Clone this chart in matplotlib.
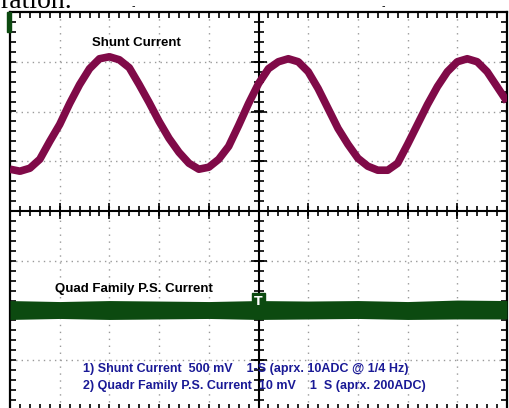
import matplotlib
matplotlib.use("Agg")
import matplotlib.pyplot as plt
import numpy as np

# channel 1: shunt current, in screen divisions, sampled every 0.2 s (1 s/div)
shunt_div = [0.84, 0.80, 0.86, 1.04, 1.40, 1.74, 2.16, 2.54, 2.86, 3.06,
             3.10, 3.04, 2.88, 2.54, 2.18, 1.80, 1.46, 1.18, 0.96, 0.84,
             0.88, 1.04, 1.30, 1.72, 2.16, 2.56, 2.86, 3.00, 3.06, 3.00,
             2.80, 2.46, 2.06, 1.66, 1.34, 1.06, 0.90, 0.82, 0.82, 0.96,
             1.34, 1.74, 2.14, 2.50, 2.80, 3.00, 3.06, 3.00, 2.80, 2.50,
             2.20]
time_s = np.linspace(0, 10, len(shunt_div))

# channel 2: quad family P.S. current, band envelope (divisions)
quad_t = [0, 1, 2, 3, 4, 5, 6, 7, 8, 9, 10]
quad_upper = [-1.80, -1.82, -1.80, -1.81, -1.82, -1.80, -1.81, -1.80, -1.82, -1.79, -1.80]
quad_lower = [-2.18, -2.16, -2.18, -2.17, -2.16, -2.18, -2.17, -2.16, -2.18, -2.17, -2.17]

label_ch1 = "Shunt Current"
label_ch2 = "Quad Family P.S. Current"
info_1 = "1) Shunt Current  500 mV    1-S (aprx. 10ADC @ 1/4 Hz)"
info_2 = "2) Quadr Family P.S. Current  10 mV    1  S (aprx. 200ADC)"

maroon = "#800a48"
green = "#0c4a10"
navy = "#1a1a96"

fig = plt.figure(figsize=(5.09, 4.08), dpi=100)
ax = fig.add_axes([10 / 509, 1 - 410 / 408, 497 / 509, 398 / 408])
ax.set_xlim(0, 10)
ax.set_ylim(-4, 4)

# dotted graticule
for gx in range(1, 10):
    if gx != 5:
        ax.axvline(gx, color="#9a9a9a", lw=1.0, ls=(0, (1, 4)), zorder=1)
for gy in range(-3, 4):
    if gy != 0:
        ax.axhline(gy, color="#9a9a9a", lw=1.0, ls=(0, (1, 3)), zorder=1)

# centre axes with cross ticks
ax.axhline(0, color="black", lw=1.5, zorder=2)
ax.axvline(5, color="black", lw=1.5, zorder=2)
xt = np.arange(0, 10.01, 0.2)
yt = np.arange(-4, 4.01, 0.2)
ax.plot(xt, np.zeros_like(xt), ls="none", marker="|", ms=7, mew=1.2, color="black", zorder=2)
ax.plot(np.full_like(yt, 5), yt, ls="none", marker="_", ms=7, mew=1.2, color="black", zorder=2)
ax.plot(np.arange(0, 11), np.zeros(11), ls="none", marker="|", ms=11, mew=1.2, color="black", zorder=2)
ax.plot(np.full(9, 5), np.arange(-4, 5), ls="none", marker="_", ms=11, mew=1.2, color="black", zorder=2)

for s in ax.spines.values():
    s.set_linewidth(1.6)
ax.set_xticks(np.arange(0, 10.01, 0.2))
ax.set_yticks(np.arange(-4, 4.01, 0.2))
ax.tick_params(direction="in", length=4, width=1.2, top=True, right=True,
               labelbottom=False, labelleft=False)

# traces
ax.plot(time_s, shunt_div, color=maroon, lw=5.5, solid_capstyle="butt", zorder=3)
ax.fill_between(quad_t, quad_lower, quad_upper, color=green, lw=0, zorder=3)

# trigger marker
ax.text(5.0, -1.82, "T", color="white", fontsize=9, fontweight="bold", ha="center", va="center",
        bbox=dict(boxstyle="square,pad=0.15", fc=green, ec=green), zorder=5)

ax.text(2.55, 3.38, label_ch1, fontsize=9.5, fontweight="bold", ha="center", va="center",
        family="Liberation Sans", zorder=4)
ax.text(2.5, -1.57, label_ch2, fontsize=9.5, fontweight="bold", ha="center", va="center",
        family="Liberation Sans", zorder=4)
ax.text(1.47, -3.18, info_1, fontsize=9, fontweight="bold", color=navy, ha="left", va="center",
        family="Liberation Sans", zorder=4)
ax.text(1.47, -3.52, info_2, fontsize=9, fontweight="bold", color=navy, ha="left", va="center",
        family="Liberation Sans", zorder=4)

# channel marker on the left edge
fig.patches.append(plt.Rectangle((7 / 509, 1 - 32 / 408), 4 / 509, 20 / 408,
                                 transform=fig.transFigure, color=green, zorder=5))

# clipped text of the surrounding document
fig.text(0.0, 1 - 8 / 408, "ration.", fontsize=20, family="Liberation Serif", va="baseline")
fig.text(133 / 509, 1 - 6 / 408, "-", fontsize=7, ha="center", va="center")
fig.text(383 / 509, 1 - 6 / 408, "-", fontsize=7, ha="center", va="center")

fig.savefig("out.png", dpi=100)
